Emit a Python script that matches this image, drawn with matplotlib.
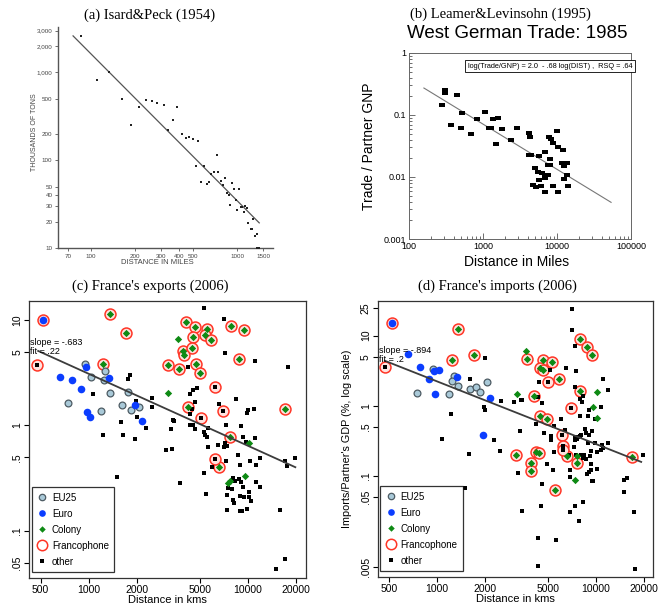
import numpy as np
import matplotlib
matplotlib.use("Agg")
import matplotlib.pyplot as plt
from matplotlib.lines import Line2D
from matplotlib.ticker import FixedLocator, NullLocator, FixedFormatter, LogLocator

# ---------------- Panel (a): Isard & Peck (1954) ----------------
a_dist = [86, 111, 134, 163, 190, 215, 238, 262, 285, 315, 339, 366, 390, 418, 445, 471, 496,
          520, 542, 562, 589, 618, 644, 664, 689, 722, 741, 769, 798, 827, 849, 875, 894, 927,
          951, 981, 997, 1030, 1057, 1080, 1102, 1125, 1155, 1191, 1230, 1256, 1282, 1310,
          1352, 1352, 1410]
a_tons = [2630, 830, 1020, 504, 252, 401, 482, 470, 454, 423, 219, 290, 401, 198, 178, 184, 175,
          87, 167, 56, 87, 54, 56.5, 70, 74, 115, 74, 57.5, 52, 63, 42, 40.6, 31.2, 55,
          47, 35.5, 27.4, 47, 29.1, 29.1, 25.5, 29.9, 28.6, 19.3, 16.6, 16.6, 21.4, 13.6,
          14.6, 10, 10]
a_fit = (6.577, -1.68)          # log10 intercept, slope
a_fit_range = (76, 1410)
a_xticks = [70, 100, 200, 300, 400, 500, 1000, 1500]
a_xticklabels = ["70", "100", "200", "300", "400", "500", "1000", "1500"]
a_yticks = [10, 20, 30, 40, 50, 100, 200, 500, 1000, 2000, 3000]
a_yticklabels = ["10", "20", "30", "40", "50", "100", "200", "500", "1,000", "2,000", "3,000"]

# ---------------- Panel (b): Leamer & Levinsohn (1995) ----------------
b_dist = [282, 303, 303, 444, 373, 519, 498, 679, 818, 1050, 1200, 1290, 1360, 1590, 1480, 1820,
          2400, 2840, 4160, 4290, 4160, 4400, 7900, 8330, 8950, 10040, 10250, 11980, 5800, 6780,
          8070, 7510, 8000, 11610, 12620, 13710, 12300, 5120, 5500, 6240, 6920, 7670, 5800, 6780,
          13710, 12620, 4810, 5230, 6110, 6780, 8950, 10250, 14130]
b_ratio = [0.147, 0.256, 0.23, 0.213, 0.070, 0.106, 0.0617, 0.050, 0.087, 0.113, 0.0617, 0.0617,
           0.087, 0.0895, 0.034, 0.0594, 0.040, 0.0617, 0.051, 0.045, 0.023, 0.023, 0.044, 0.041,
           0.036, 0.055, 0.030, 0.027, 0.0215, 0.025, 0.0195, 0.0158, 0.0158, 0.0168, 0.017,
           0.0168, 0.015, 0.014, 0.0119, 0.0117, 0.0109, 0.0106, 0.0091, 0.0096, 0.0109, 0.0093,
           0.0075, 0.0069, 0.0072, 0.0057, 0.0072, 0.0057, 0.0072]
b_fit = (1.04, -0.729)
b_fit_range = (159, 53800)
b_xticks = [100, 1000, 10000, 100000]
b_xticklabels = ["100", "1000", "10000", "100000"]
b_yticks = [0.001, 0.01, 0.1, 1]
b_yticklabels = ["0.001", "0.01", "0.1", "1"]
b_equation = "log(Trade/GNP) = 2.0  - .68 log(DIST) ,  RSQ = .64"

# ---------------- Panel (c): France's exports (2006) ----------------
c_euro_dist = [658, 786, 892, 964, 1344, 977, 1021, 1948, 2176]
c_euro_val = [2.88, 2.68, 2.23, 3.61, 2.82, 1.35, 1.20, 1.55, 1.09]
c_eu25_dist = [945, 1268, 1035, 1256, 1357, 1760, 746, 1197, 1630, 1857, 2074]
c_eu25_val = [3.85, 3.29, 2.86, 2.68, 2.05, 2.08, 1.62, 1.37, 1.575, 1.41, 1.51]
c_colony_dist = [3647, 3170, 10090, 7481, 7735, 9610]
c_colony_val = [6.56, 2.05, 0.677, 0.288, 0.295, 0.333]
c_franc_colony_dist = [1364, 1718, 1239, 4093, 4663, 5518, 5336, 4508, 5876, 7850, 9473, 3938,
                       4443, 3976, 3140, 3700, 4707, 4964, 8811, 4193, 16980, 7661, 6600]
c_franc_colony_val = [11.3, 7.48, 3.79, 9.57, 8.58, 8.16, 7.26, 6.95, 6.42, 8.77, 8.04, 5.12,
                      5.47, 4.63, 3.74, 3.45, 3.79, 3.12, 4.23, 1.51, 1.43, 0.778, 0.401]
c_franc_other_dist = [472, 6228, 5060, 6990, 6168]
c_franc_other_val = [3.74, 2.30, 1.18, 1.36, 0.481]
c_franc_euro_dist = [520]
c_franc_euro_val = [10.0]
c_other_dist = [1830, 1761, 1066, 2515, 2491, 1996, 1606, 2005, 2306, 1232,
                1637, 1967, 3079, 3358, 1508, 3278, 3391, 5260, 7092, 7196,
                11052, 17727, 4233, 4776, 4551, 4337, 4662, 8435, 6597, 9987,
                10840, 9843, 4443, 4337, 3457, 3294, 4337, 4551, 4662, 5573,
                5260, 5388, 5520, 7265, 9068, 9244, 11105, 9750, 5600, 6440,
                7024, 7370, 7196, 8642, 10231, 11268, 11938, 8938, 7265, 5933,
                5260, 3771, 5440, 7999, 8314, 8725, 9068, 9244, 7478, 7923,
                11268, 11938, 10181, 7370, 8938, 9379, 10084, 7999, 8195, 10481,
                7406, 8938, 9157, 9843, 15942, 16974, 14975, 16974, 17556, 19615]
c_other_val = [3.03, 2.76, 1.97, 1.81, 1.51, 1.72, 1.079, 1.195, 0.940, 0.812,
               0.812, 0.745, 0.586, 0.599, 0.323, 0.919, 1.128, 13.1, 10.3, 4.83,
               4.05, 3.56, 3.61, 2.27, 2.17, 1.99, 1.65, 1.80, 1.59, 1.40,
               1.42, 1.304, 1.43, 1.276, 1.111, 0.919, 1.010, 1.010, 0.919, 0.953,
               0.874, 0.812, 0.783, 1.010, 0.989, 0.778, 0.755, 0.703, 0.621, 0.658,
               0.630, 0.639, 0.678, 0.521, 0.464, 0.425, 0.489, 0.425, 0.461, 0.407,
               0.352, 0.283, 0.224, 0.316, 0.300, 0.309, 0.2935, 0.263, 0.2537, 0.2518,
               0.2935, 0.263, 0.234, 0.219, 0.2146, 0.2084, 0.2115, 0.1967, 0.1829, 0.1938,
               0.1581, 0.1547, 0.1547, 0.1604, 0.1581, 0.0547, 0.0433, 0.464, 0.413, 0.496]
c_fit = (2.539, -0.683)
c_fit_range = (483, 19800)
c_fit_text = "slope = -.683\nfit = .22"
c_yticks = [0.05, 0.1, 0.5, 1, 5, 10]
c_yticklabels = [".05", ".1", ".5", "1", "5", "10"]

# ---------------- Panel (d): France's imports (2006) ----------------
d_euro_dist = [658, 786, 954, 1026, 896, 1338, 977, 2166, 1948]
d_euro_val = [5.51, 3.52, 3.16, 3.26, 2.43, 2.56, 1.47, 1.287, 0.390]
d_franc_euro_dist = [522]
d_franc_euro_val = [15.07]
d_eu25_dist = [945, 1275, 1250, 1357, 750, 1197, 1629, 1769, 1875, 2064]
d_eu25_val = [3.37, 2.68, 2.246, 1.93, 1.533, 1.451, 1.746, 1.825, 1.55, 2.174]
d_colony_dist = [3663, 3185, 10133, 9655, 10181, 7660, 7369]
d_colony_val = [5.95, 1.483, 1.567, 0.947, 0.674, 0.190, 0.0882]
d_franc_colony_dist = [1357, 1244, 1702, 7923, 8809, 9517, 3698, 4685, 5337, 4464, 4685, 5848,
                       4113, 7923, 4486, 4964, 4233, 4379, 3169, 3900, 3938, 5520, 6597, 7622,
                       16892]
d_franc_colony_val = [12.38, 4.53, 5.22, 8.92, 6.86, 5.28, 4.63, 4.53, 4.20, 3.45, 3.26, 2.43,
                      1.374, 1.601, 0.712, 0.653, 0.2162, 0.2116, 0.2003, 0.1524, 0.1185,
                      0.0635, 0.190, 0.1524, 0.1836]
d_franc_other_dist = [474, 5012, 7024, 6166, 6226, 6226]
d_franc_other_val = [3.52, 2.174, 0.926, 0.386, 0.269, 0.236]
d_other_dist = [7092, 7092, 7369, 6534, 7477, 5134, 4400, 11051, 11938, 7369,
                3375, 3457, 4337, 4618, 8314, 7923, 8234, 10840, 9024, 7999,
                6019, 8938, 9940, 3326, 4193, 5467, 4730, 6378, 8600, 9472,
                9024, 7442, 7923, 5260, 5260, 7369, 7660, 7734, 8116, 8642,
                8938, 9843, 10946, 11938, 11105, 10736, 10231, 9379, 9157, 8435,
                7300, 5467, 6791, 7477, 8038, 8314, 8725, 9291, 9291, 8853,
                9115, 10231, 3247, 4964, 5388, 6923, 6923, 9472, 9655, 15049,
                15790, 15120, 19804, 4618, 3457, 4551, 6923, 7369, 7847, 8353,
                17388, 4337, 5600, 4337, 17556, 2015, 1621, 1226, 1967, 1996,
                2527, 3064, 1076, 2295, 2503, 1606, 1508]
d_other_val = [24.1, 11.85, 7.24, 3.45, 3.16, 3.19, 2.174, 2.43, 1.691, 1.825,
               1.218, 1.205, 1.315, 1.092, 1.359, 1.245, 1.116, 0.978, 0.858, 0.720,
               0.645, 0.728, 0.645, 0.431, 0.548, 0.508, 0.408, 0.455, 0.465, 0.431,
               0.386, 0.358, 0.374, 0.3656, 0.3277, 0.3277, 0.335, 0.358, 0.386, 0.408,
               0.2937, 0.2937, 0.278, 0.300, 0.249, 0.236, 0.2162, 0.2235, 0.194, 0.2003,
               0.2576, 0.2162, 0.2003, 0.2003, 0.2003, 0.1795, 0.1738, 0.1491, 0.1225, 0.1074,
               0.1147, 0.1252, 0.1098, 0.1475, 0.1225, 0.1225, 0.0952, 0.0854, 0.0854, 0.0863,
               0.0932, 0.0582, 0.2003, 0.0774, 0.0312, 0.0376, 0.0308, 0.0376, 0.02297, 0.0419,
               0.0308, 0.0130, 0.01204, 0.00524, 0.0047, 4.73, 2.40, 0.761, 0.978, 0.877,
               1.166, 1.128, 0.339, 0.3277, 0.2284, 0.2025, 0.0671]
d_fit = (3.032, -0.894)
d_fit_range = (471, 19300)
d_fit_text = "slope = -.894\nfit = .2"
d_yticks = [0.005, 0.05, 0.1, 0.5, 1, 5, 10, 25]
d_yticklabels = [".005", ".05", ".1", ".5", "1", "5", "10", "25"]

cd_xticks = [500, 1000, 2000, 5000, 10000, 20000]
cd_xticklabels = ["500", "1000", "2000", "5000", "10000", "20000"]
legend_labels = ["EU25", "Euro", "Colony", "Francophone", "other"]

# ---------------- styling ----------------
SANS = ["Liberation Sans", "DejaVu Sans"]
SERIF = ["Liberation Serif", "DejaVu Serif"]
plt.rcParams["font.family"] = SANS

C_EU25_FACE = "#a9c9d8"
C_EU25_EDGE = "#4d5b63"
C_EURO = "#0b3dff"
C_COLONY = "#0e8a14"
C_FRANC = "#ff3526"
C_OTHER = "black"

W, H = 663, 606
fig = plt.figure(figsize=(W / 100, H / 100), dpi=100)


def ax_rect(x0, y0, x1, y1):
    return [x0 / W, 1 - y1 / H, (x1 - x0) / W, (y1 - y0) / H]


def fit_line(ax, fit, rng, **kw):
    xs = np.array(rng, dtype=float)
    ys = 10 ** (fit[0] + fit[1] * np.log10(xs))
    ax.plot(xs, ys, **kw)


# titles
fig.text(150 / W, 1 - 15 / H, "(a) Isard&Peck (1954)", family=SERIF, fontsize=10.5,
         ha="center", va="center")
fig.text(500 / W, 1 - 14 / H, "(b) Leamer&Levinsohn (1995)", family=SERIF, fontsize=10.5,
         ha="center", va="center")
fig.text(150 / W, 1 - 286 / H, "(c) France's exports (2006)", family=SERIF, fontsize=10.5,
         ha="center", va="center")
fig.text(497 / W, 1 - 286 / H, "(d) France's imports (2006)", family=SERIF, fontsize=10.5,
         ha="center", va="center")

# ---------------- (a) ----------------
axa = fig.add_axes(ax_rect(58, 27, 273, 248))
axa.set_xscale("log")
axa.set_yscale("log")
axa.scatter(a_dist, a_tons, s=3, color="#222222", marker="s", linewidths=0, clip_on=False, zorder=3)
fit_line(axa, a_fit, a_fit_range, color="#555555", lw=0.9)
axa.set_xlim(60, 1750)
axa.set_ylim(10, 3300)
for sp in ["top", "right"]:
    axa.spines[sp].set_visible(False)
for sp in ["left", "bottom"]:
    axa.spines[sp].set_color("#555555")
    axa.spines[sp].set_linewidth(1.0)
axa.xaxis.set_major_locator(FixedLocator(a_xticks))
axa.xaxis.set_major_formatter(FixedFormatter(a_xticklabels))
axa.yaxis.set_major_locator(FixedLocator(a_yticks))
axa.yaxis.set_major_formatter(FixedFormatter(a_yticklabels))
axa.xaxis.set_minor_locator(NullLocator())
axa.yaxis.set_minor_locator(NullLocator())
axa.tick_params(labelsize=4.5, length=2.5, width=0.6, colors="#555555", labelcolor="#444444", pad=1.5)
fig.text(157 / W, 1 - 262 / H, "DISTANCE IN MILES", fontsize=5.5, ha="center", va="center", color="#444444")
fig.text(35 / W, 1 - 132 / H, "THOUSANDS OF TONS", fontsize=5, ha="center", va="center",
         rotation=90, color="#444444")

# ---------------- (b) ----------------
fig.text(517 / W, 1 - 34 / H, "West German Trade: 1985", fontsize=13.5, ha="center", va="center")
axb = fig.add_axes(ax_rect(409, 53, 631, 239))
axb.set_xscale("log")
axb.set_yscale("log")
rect_marker = [(-1.0, -0.72), (1.0, -0.72), (1.0, 0.72), (-1.0, 0.72), (-1.0, -0.72)]
axb.scatter(b_dist, b_ratio, s=22, marker=rect_marker, color="black", linewidths=0, zorder=3)
fit_line(axb, b_fit, b_fit_range, color="#777777", lw=0.8)
axb.set_xlim(100, 100000)
axb.set_ylim(0.001, 1)
for sp in axb.spines.values():
    sp.set_color("#666666")
    sp.set_linewidth(0.7)
axb.xaxis.set_major_locator(FixedLocator(b_xticks))
axb.xaxis.set_major_formatter(FixedFormatter(b_xticklabels))
axb.yaxis.set_major_locator(FixedLocator(b_yticks))
axb.yaxis.set_major_formatter(FixedFormatter(b_yticklabels))
axb.xaxis.set_minor_locator(LogLocator(base=10, subs=np.arange(2, 10), numticks=20))
axb.yaxis.set_minor_locator(LogLocator(base=10, subs=np.arange(2, 10), numticks=20))
axb.xaxis.set_minor_formatter(FixedFormatter([]))
axb.yaxis.set_minor_formatter(FixedFormatter([]))
axb.tick_params(which="both", direction="in", labelsize=6.5, width=0.6, colors="#555555",
                labelcolor="black", pad=2)
axb.tick_params(which="major", length=4)
axb.tick_params(which="minor", length=2)
axb.text(0.265, 0.928, b_equation, transform=axb.transAxes, fontsize=5.3, ha="left", va="center",
         clip_on=False, zorder=5,
         bbox=dict(boxstyle="square,pad=0.35", fc="white", ec="black", lw=0.6))
fig.text(369 / W, 1 - 146 / H, "Trade / Partner GNP", fontsize=10, ha="center", va="center", rotation=90)
fig.text(517 / W, 1 - 262 / H, "Distance in Miles", fontsize=10, ha="center", va="center")


# ---------------- (c) & (d) ----------------
def trade_panel(ax, groups, fit, fit_range, fit_text, text_y, yticks, yticklabels, ylim):
    (eu25_d, eu25_v, euro_d, euro_v, col_d, col_v, fcol_d, fcol_v,
     foth_d, foth_v, feur_d, feur_v, oth_d, oth_v) = groups
    ax.set_xscale("log")
    ax.set_yscale("log")
    ring_d = list(fcol_d) + list(foth_d) + list(feur_d)
    ring_v = list(fcol_v) + list(foth_v) + list(feur_v)
    ax.scatter(ring_d, ring_v, s=62, facecolor="#ffe3df", edgecolor=C_FRANC, linewidths=1.1, zorder=2)
    ax.scatter(oth_d + foth_d, oth_v + foth_v, s=9, marker="s", color=C_OTHER, linewidths=0, zorder=3)
    ax.scatter(eu25_d, eu25_v, s=24, marker="o", facecolor=C_EU25_FACE, edgecolor=C_EU25_EDGE,
               linewidths=0.9, zorder=3)
    ax.scatter(euro_d + feur_d, euro_v + feur_v, s=30, marker="o", color=C_EURO, linewidths=0, zorder=3)
    ax.scatter(col_d + fcol_d, col_v + fcol_v, s=14, marker="D", color=C_COLONY, linewidths=0, zorder=3)
    fit_line(ax, fit, fit_range, color="#3c3c3c", lw=1.3, zorder=4)
    ax.text(0.003, text_y, fit_text, transform=ax.transAxes, fontsize=6.5, ha="left", va="center",
            linespacing=0.95, zorder=5)
    ax.set_xlim(425, 23000)
    ax.set_ylim(*ylim)
    ax.xaxis.set_major_locator(FixedLocator(cd_xticks))
    ax.xaxis.set_major_formatter(FixedFormatter(cd_xticklabels))
    ax.yaxis.set_major_locator(FixedLocator(yticks))
    ax.yaxis.set_major_formatter(FixedFormatter(yticklabels))
    ax.xaxis.set_minor_locator(NullLocator())
    ax.yaxis.set_minor_locator(NullLocator())
    ax.tick_params(direction="out", length=3.5, width=0.8, labelsize=7.5, pad=1.5)
    for lab in ax.get_yticklabels():
        lab.set_rotation(90)
        lab.set_va("center")
    for sp in ax.spines.values():
        sp.set_linewidth(0.9)
        sp.set_color("#333333")
    ax.set_xlabel("Distance in kms", fontsize=8, labelpad=0)
    handles = [
        Line2D([], [], ls="none", marker="o", ms=4.6, mfc=C_EU25_FACE, mec=C_EU25_EDGE, mew=0.9),
        Line2D([], [], ls="none", marker="o", ms=4.8, mfc=C_EURO, mec=C_EURO, mew=0),
        Line2D([], [], ls="none", marker="D", ms=3.3, mfc=C_COLONY, mec=C_COLONY, mew=0),
        Line2D([], [], ls="none", marker="o", ms=7.5, mfc="none", mec=C_FRANC, mew=1.1),
        Line2D([], [], ls="none", marker="s", ms=3.0, mfc=C_OTHER, mec=C_OTHER, mew=0),
    ]
    leg = ax.legend(handles, legend_labels, loc="lower left", bbox_to_anchor=(0.01, 0.02),
                    borderaxespad=0, fontsize=7, frameon=True, fancybox=False, handlelength=1.0,
                    handletextpad=0.5, labelspacing=0.62, borderpad=0.55)
    leg.get_frame().set_edgecolor("black")
    leg.get_frame().set_linewidth(0.9)


axc = fig.add_axes(ax_rect(29.3, 300.7, 305.7, 577.7))
trade_panel(axc, (c_eu25_dist, c_eu25_val, c_euro_dist, c_euro_val, c_colony_dist, c_colony_val,
                  c_franc_colony_dist, c_franc_colony_val, c_franc_other_dist, c_franc_other_val,
                  c_franc_euro_dist, c_franc_euro_val, c_other_dist, c_other_val),
            c_fit, c_fit_range, c_fit_text, 0.834, c_yticks, c_yticklabels, (0.0361, 15.2))

axd = fig.add_axes(ax_rect(377.7, 300.7, 653.3, 576.7))
trade_panel(axd, (d_eu25_dist, d_eu25_val, d_euro_dist, d_euro_val, d_colony_dist, d_colony_val,
                  d_franc_colony_dist, d_franc_colony_val, d_franc_other_dist, d_franc_other_val,
                  d_franc_euro_dist, d_franc_euro_val, d_other_dist, d_other_val),
            d_fit, d_fit_range, d_fit_text, 0.804, d_yticks, d_yticklabels, (0.00367, 31.5))
axd.set_ylabel("Imports/Partner's GDP (%, log scale)", fontsize=7.8)
axd.yaxis.set_label_coords(-0.094, 0.5)

fig.savefig("out.png", dpi=100)
